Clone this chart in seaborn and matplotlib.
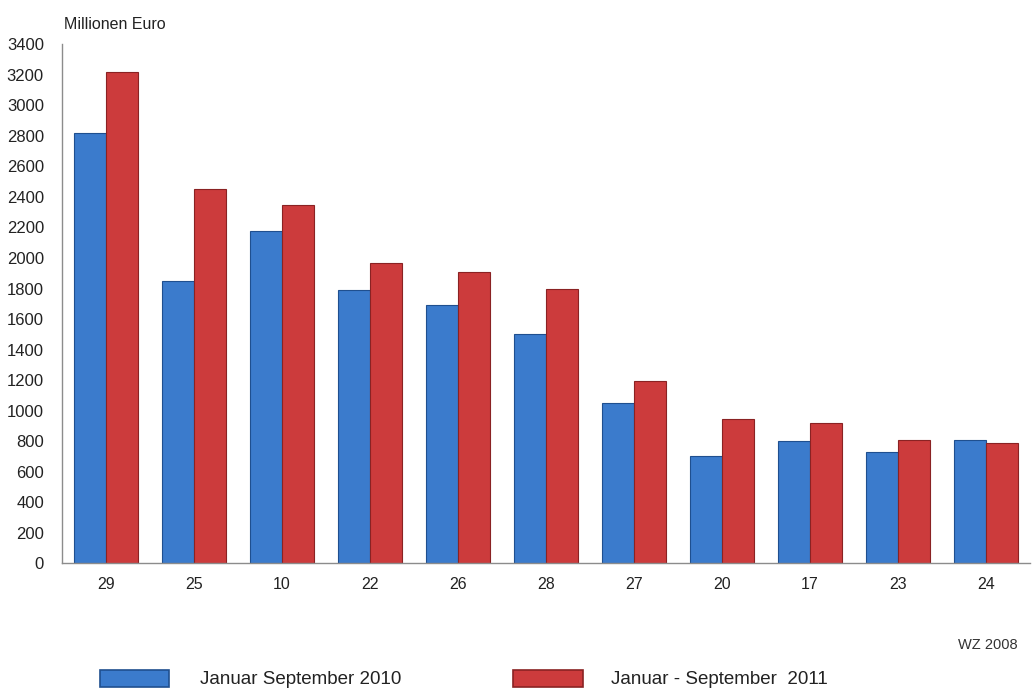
import pandas as pd
import seaborn as sns
import matplotlib.pyplot as plt
from matplotlib.patches import Rectangle

# WZ 2008 Abteilungen, Millionen Euro
wz_codes = ['29', '25', '10', '22', '26', '28', '27', '20', '17', '23', '24']
jan_sep_2010 = [2820, 1850, 2180, 1790, 1690, 1500, 1050, 700, 800, 727, 806]
jan_sep_2011 = [3220, 2450, 2350, 1965, 1905, 1800, 1195, 945, 918, 806, 786]
series_names = ['Januar September 2010', 'Januar - September  2011']
colors = ['#3b7bcc', '#cc3b3c']
edge_colors = ['#1f4f8f', '#8a2223']

df = pd.DataFrame({
    'wz': wz_codes * 2,
    'wert': jan_sep_2010 + jan_sep_2011,
    'zeitraum': [series_names[0]] * len(wz_codes) + [series_names[1]] * len(wz_codes),
})

sns.set_style('white')
plt.rcParams['font.family'] = ['Liberation Sans', 'DejaVu Sans']

fig = plt.figure(figsize=(10.33, 6.92), dpi=100)
ax = fig.add_axes([0.060, 0.186, 0.937, 0.750])

sns.barplot(data=df, x='wz', y='wert', hue='zeitraum', order=wz_codes,
            hue_order=series_names, palette=colors, width=0.72,
            saturation=1, legend=False, ax=ax)

# darker edges for a bit of the bevel look
for i, cont in enumerate(ax.containers):
    for bar in cont:
        bar.set_edgecolor(edge_colors[i])
        bar.set_linewidth(0.8)

ax.set_ylim(0, 3400)
ax.set_xlim(-0.5, len(wz_codes) - 0.5)
ax.set_yticks(range(0, 3401, 200))
ax.set_xlabel('')
ax.set_ylabel('')

for s in ['top', 'right']:
    ax.spines[s].set_visible(False)
for s in ['left', 'bottom']:
    ax.spines[s].set_color('#8c8c8c')
    ax.spines[s].set_linewidth(1)

# tick marks between the groups, labels without ticks
ax.set_xticks([i + 0.5 for i in range(-1, len(wz_codes))], minor=True)
ax.tick_params(axis='x', which='major', length=0, pad=10, labelsize=11.5, labelcolor='#222222')
ax.tick_params(axis='x', which='minor', length=5, color='#8c8c8c', direction='out')
ax.tick_params(axis='y', length=6, color='#8c8c8c', direction='out', labelsize=12,
               labelcolor='#222222', pad=7)

fig.text(0.062, 0.965, 'Millionen Euro', fontsize=11.5, color='#222222', va='center')
fig.text(0.985, 0.068, 'WZ 2008', fontsize=10.5, color='#333333', ha='right', va='center')

# legend at the bottom
for i, (x0, xt) in enumerate([(0.097, 0.194), (0.497, 0.591)]):
    fig.patches.append(Rectangle((x0, 0.0075), 0.067, 0.024, transform=fig.transFigure,
                                 facecolor=colors[i], edgecolor=edge_colors[i], lw=1.2))
    fig.text(xt, 0.018, series_names[i], fontsize=13.5, color='#222222', va='center')

fig.savefig('out.png', dpi=100)
